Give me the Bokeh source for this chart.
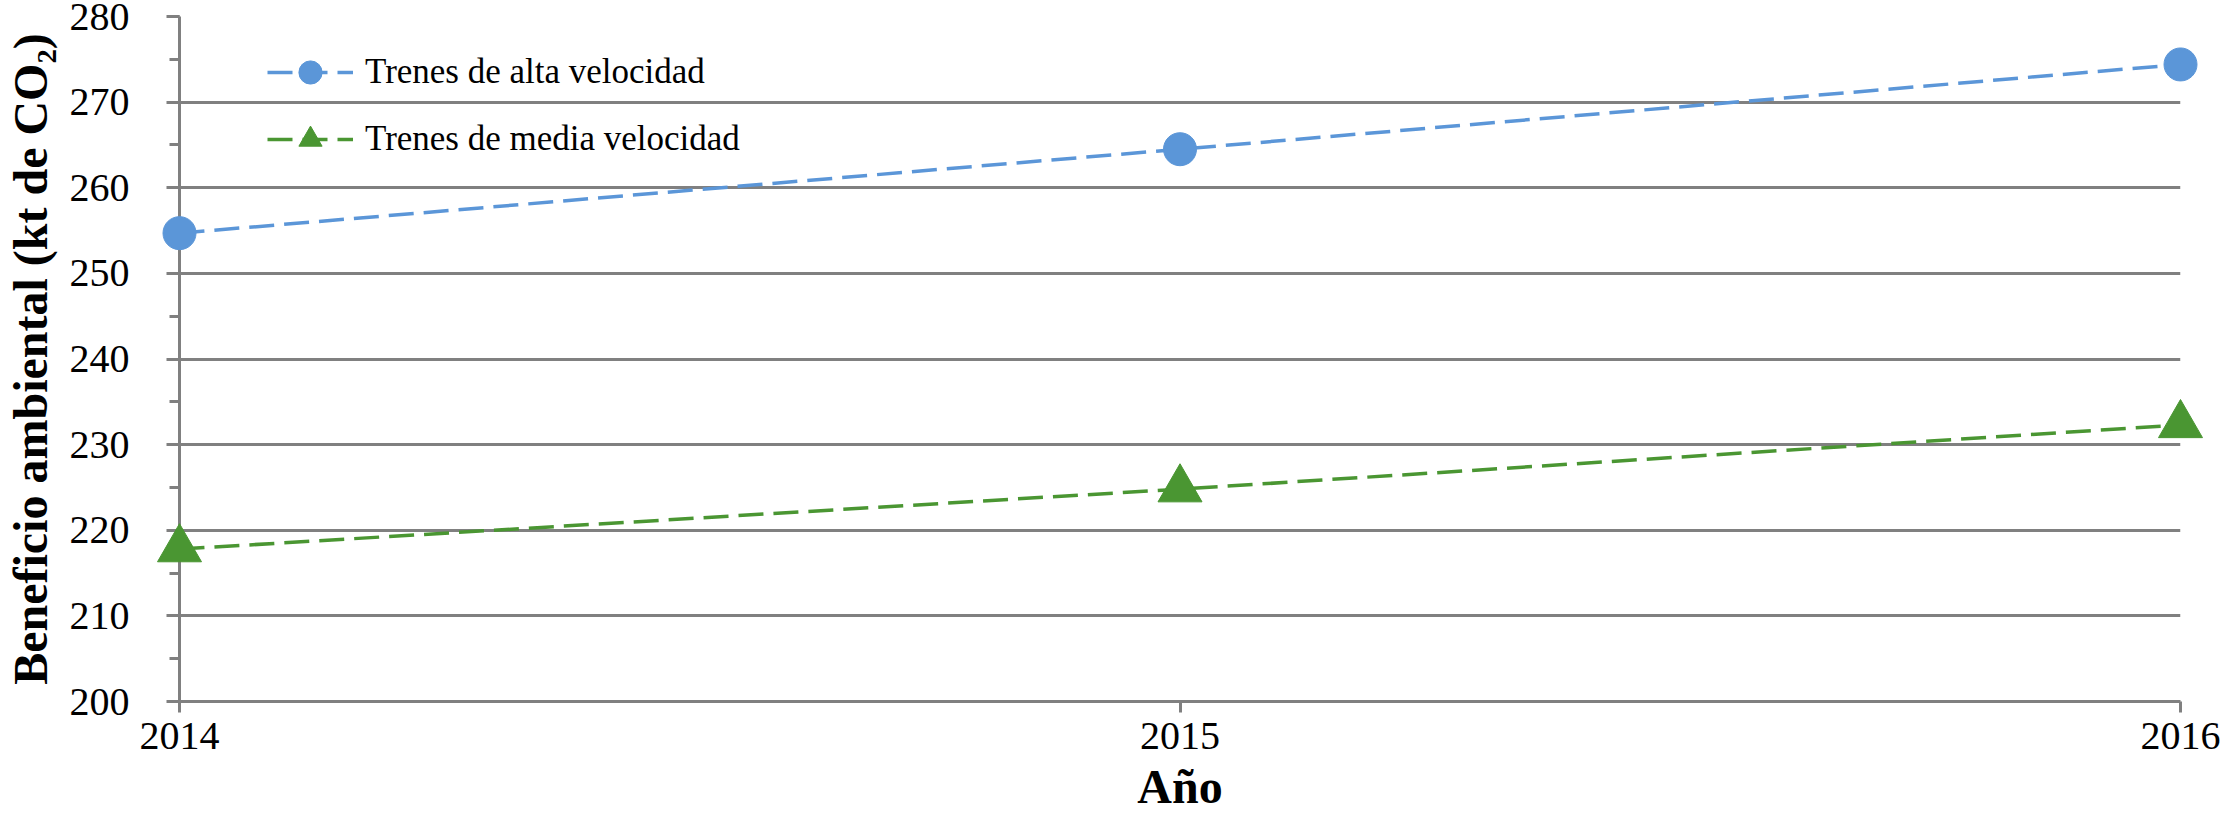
from bokeh.plotting import figure
from bokeh.models import FixedTicker, SingleIntervalTicker, Legend, LegendItem, Range1d
from bokeh.embed import file_html
from bokeh.resources import INLINE

years = [2014, 2015, 2016]
alta = [254.7, 264.5, 274.4]
media = [217.8, 224.8, 232.3]
series_names = ["Trenes de alta velocidad", "Trenes de media velocidad"]
x_ticks = [2014, 2015, 2016]
y_label = "Beneficio ambiental (kt de CO₂)"
x_label = "Año"

FONT = "Liberation Serif"
GRID = "#808080"
BLUE = "#5B96D8"
GREEN = "#4A9632"

p = figure(width=2221, height=816, output_backend="svg", toolbar_location=None,
           x_range=Range1d(2014, 2016), y_range=Range1d(200, 280),
           min_border_left=179, min_border_right=41, min_border_top=16, min_border_bottom=115)
p.outline_line_color = None
p.background_fill_color = "white"
p.border_fill_color = "white"
p.xgrid.visible = False
p.ygrid.grid_line_color = GRID
p.ygrid.grid_line_width = 3

p.xaxis.ticker = FixedTicker(ticks=x_ticks, minor_ticks=[])
p.yaxis.ticker = SingleIntervalTicker(interval=10, num_minor_ticks=2)

for ax in (p.xaxis, p.yaxis):
    ax.axis_line_color = GRID
    ax.axis_line_width = 3
    ax.major_tick_line_color = GRID
    ax.major_tick_line_width = 3
    ax.major_tick_in = 0
    ax.minor_tick_line_color = GRID
    ax.minor_tick_line_width = 3
    ax.minor_tick_in = 0
    ax.major_label_text_font = FONT
    ax.major_label_text_font_size = "40px"
    ax.major_label_text_color = "black"
    ax.axis_label_text_font = FONT
    ax.axis_label_text_font_style = "bold"
    ax.axis_label_text_font_size = "48px"
    ax.axis_label_text_color = "black"

p.xaxis.major_tick_out = 11
p.xaxis.minor_tick_out = 0
p.xaxis.major_label_standoff = 10
p.xaxis.axis_label = x_label
p.xaxis.axis_label_standoff = 8

p.yaxis.major_tick_out = 13
p.yaxis.minor_tick_out = 10
p.yaxis.major_label_standoff = 37
p.yaxis.axis_label = y_label
p.yaxis.axis_label_standoff = 10

l1 = p.line(years, alta, line_color=BLUE, line_width=3.5, line_dash="25 10")
s1 = p.scatter(years, alta, marker="circle", size=33, fill_color=BLUE, line_color=BLUE, level="overlay")
l2 = p.line(years, media, line_color=GREEN, line_width=3.5, line_dash="25 10")
s2 = p.scatter(years, media, marker="triangle", size=44, fill_color=GREEN, line_color=GREEN, level="overlay")

legend = Legend(items=[LegendItem(label=series_names[0], renderers=[l1, s1]),
                       LegendItem(label=series_names[1], renderers=[l2, s2])],
                location=(88, 533), padding=0, margin=0, border_line_color=None,
                background_fill_alpha=0, glyph_width=86, glyph_height=58, label_height=58,
                spacing=9, label_standoff=12, label_text_font=FONT,
                label_text_font_size="35px", label_text_color="black")
p.add_layout(legend)

open("out.html", "w").write(file_html(p, INLINE))
